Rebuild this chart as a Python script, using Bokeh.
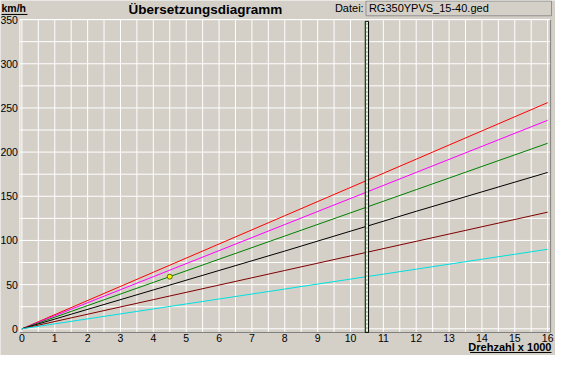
import numpy as np
from bokeh.plotting import figure
from bokeh.models import Label, Arrow, SingleIntervalTicker, Range1d
from bokeh.embed import file_html
from bokeh.resources import INLINE

# --- data ---
rpm = [0, 4, 8, 12, 16]                       # Drehzahl x 1000
gear_red = [0, 64, 128, 192, 256]
gear_magenta = [0, 59, 118, 177, 236]
gear_green = [0, 52.5, 105, 157.5, 210]
gear_black = [0, 44, 88, 133, 177]
gear_darkred = [0, 33, 66, 99, 132]
gear_cyan = [0, 22.5, 45, 67.5, 90]
series = [
    (gear_red, "#ff0000"),
    (gear_magenta, "#ff00ff"),
    (gear_green, "#008000"),
    (gear_black, "#000000"),
    (gear_darkred, "#800000"),
    (gear_cyan, "#00e0e0"),
]
marker_rpm = 10.5
point_rpm = [4.5]
point_kmh = [59]
x_grid = list(np.arange(0, 16.01, 0.5))
y_grid = list(range(0, 351, 25))
title_text = "Übersetzungsdiagramm"
file_text = "RG350YPVS_15-40.ged"

BG = "#d4d0c8"
# plot-area box (data units)
X0, X1 = -0.061, 16.09
Y0, Y1 = -4.2, 350

p = figure(width=555, height=355, output_backend="svg", toolbar_location=None,
           x_range=Range1d(-0.651, 16.239), y_range=Range1d(-30.22, 371.6),
           background_fill_color=BG, border_fill_color=BG,
           min_border_left=0, min_border_right=0, min_border_top=0, min_border_bottom=0)
p.outline_line_color = None
p.xgrid.visible = False
p.ygrid.visible = False

# axes drawn inside the frame at the plot-area edges
p.xaxis.fixed_location = Y0
p.yaxis.fixed_location = X0
p.xaxis.ticker = SingleIntervalTicker(interval=1)
p.yaxis.ticker = SingleIntervalTicker(interval=50)
p.xaxis.bounds = (0, 16)
p.yaxis.bounds = (0, 350)
for ax in (p.xaxis, p.yaxis):
    ax.axis_line_color = None
    ax.major_tick_line_color = None
    ax.minor_tick_line_color = None
    ax.major_tick_in = 0
    ax.major_tick_out = 0
    ax.minor_tick_in = 0
    ax.minor_tick_out = 0
    ax.major_label_text_font = "Liberation Sans"
    ax.major_label_text_font_size = "10.5px"
    ax.major_label_text_color = "black"
p.xaxis.major_label_standoff = 1
p.yaxis.major_label_standoff = 2

# grid lines
p.segment(x0=x_grid, y0=[Y0] * len(x_grid), x1=x_grid, y1=[Y1] * len(x_grid),
          line_color="white", line_width=1)
p.segment(x0=[X0] * len(y_grid), y0=y_grid, x1=[X1] * len(y_grid), y1=y_grid,
          line_color="white", line_width=1)
# plot-area border (sunken look)
p.segment(x0=[X0, X0], y0=[Y0, Y1], x1=[X0, X1], y1=[Y1, Y1], line_color="white", line_width=1)
p.segment(x0=[X1, X0], y0=[Y1, Y0], x1=[X1, X1], y1=[Y0, Y0], line_color="#808080", line_width=1)

# lines
for vals, col in series:
    p.line(rpm, vals, line_color=col, line_width=1)

# vertical marker bar
p.quad(left=[marker_rpm - 0.05], right=[marker_rpm + 0.05], bottom=[Y0], top=[Y1 - 2],
       fill_color="#eeeee6", line_color="black", line_width=1)
p.segment(x0=[marker_rpm], y0=[Y0], x1=[marker_rpm], y1=[Y1 - 2],
          line_color="#008000", line_dash="1 3", line_width=1)

# point
p.scatter(point_rpm, point_kmh, size=5, fill_color="#ffff00", line_color="#606000", line_width=1)

# header texts
p.add_layout(Label(x=5.587, y=361.4, text=title_text, text_font="Liberation Sans",
                   text_font_style="bold", text_font_size="13.5px", text_align="center",
                   text_baseline="middle", text_color="black"))
p.add_layout(Label(x=-0.621, y=362.6, text="km/h", text_font="Liberation Sans",
                   text_font_style="bold", text_font_size="10.5px", text_align="left",
                   text_baseline="middle", text_color="black"))
p.add_layout(Arrow(end=None, x_start=-0.621, y_start=355.8, x_end=0.17, y_end=355.8,
                   line_color="black", line_width=1))
p.add_layout(Label(x=10.40, y=362.6, text="Datei:", text_font="Liberation Sans",
                   text_font_size="11px", text_align="right",
                   text_baseline="middle", text_color="black"))
# file name field
p.quad(left=[10.472], right=[16.117], bottom=[354.3], top=[371.0],
       fill_color=BG, line_color="#909090", line_width=1)
p.add_layout(Label(x=10.56, y=362.6, text=file_text, text_font="Liberation Sans",
                   text_font_size="11px", text_align="left", text_baseline="middle",
                   text_color="black"))
# x-axis caption
p.add_layout(Label(x=16.117, y=-20.6, text="Drehzahl x 1000", text_font="Liberation Sans",
                   text_font_style="bold", text_font_size="11px", text_align="right",
                   text_baseline="middle", text_color="black"))
p.add_layout(Arrow(end=None, x_start=13.64, y_start=-26.8, x_end=16.117, y_end=-26.8,
                   line_color="black", line_width=1))

open("out.html", "w").write(file_html(p, INLINE))
